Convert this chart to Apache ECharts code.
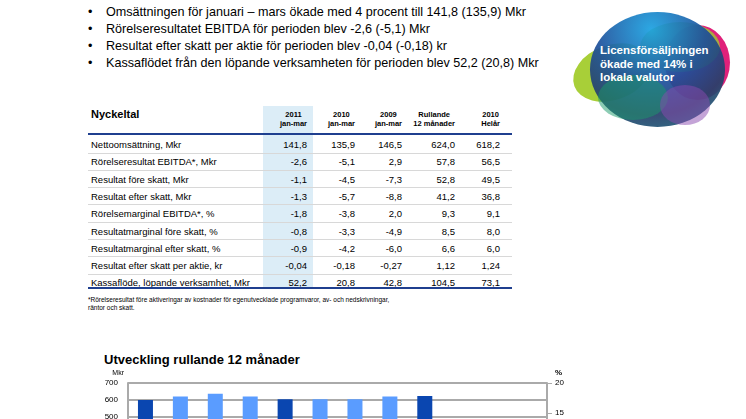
<!DOCTYPE html>
<html><head><meta charset="utf-8">
<script src="https://cdn.jsdelivr.net/npm/echarts@6/dist/echarts.min.js"></script>
<style>
body{margin:0;width:746px;height:419px;overflow:hidden;background:#fff;font-family:"Liberation Sans",Arial,sans-serif;position:relative;color:#000}
.b{position:absolute;left:88px;font-size:12.6px}
.b span{position:absolute;left:0}
.b div{position:absolute;left:18px;white-space:nowrap}
#tbl{position:absolute;left:88px;top:106px;width:424px;font-size:9.5px}
#hl{position:absolute;left:263px;top:106px;width:50px;height:183px;background:#dcedf7}
.row{position:absolute;left:0;width:424px;height:17px;line-height:17px}
.c{position:absolute;text-align:right;white-space:nowrap}
.blob{position:absolute;border-radius:50%}
#chart{position:absolute;left:0;top:350px;width:746px;height:250px}
</style></head><body>
<div id="bul"></div>
<div class="blob" style="left:572px;top:45px;width:80px;height:55px;background:#a8cf38;transform:rotate(-20deg)"></div>
<div class="blob" style="left:665px;top:25px;width:65px;height:75px;background:#e0207a"></div>
<div class="blob" style="left:640px;top:22px;width:80px;height:50px;background:#9acd32;opacity:.8"></div>
<div class="blob" style="left:590px;top:12px;width:135px;height:115px;background:radial-gradient(circle at 45% 15%,#1aa0e0,#1d4f9a 45%,#25406a 70%,#1a7a8a);opacity:.92"></div>
<div class="blob" style="left:598px;top:75px;width:70px;height:45px;background:#1a9a6a;opacity:.5"></div>
<div class="blob" style="left:660px;top:85px;width:50px;height:40px;background:#8a4ab0;opacity:.5"></div>
<div style="position:absolute;left:600px;top:44px;color:#fff;font-weight:bold;font-size:11.5px;line-height:13.5px">Licensförsäljningen<br>ökade med 14% i<br>lokala valutor</div>
<div id="hl"></div>
<div id="tbl"></div>
<div style="position:absolute;left:88px;top:296px;font-size:6.5px;line-height:8px">*Rörelseresultat före aktiveringar av kostnader för egenutvecklade programvaror, av- och nedskrivningar,<br>räntor och skatt.</div>
<div style="position:absolute;left:104px;top:352px;font-size:13px;font-weight:bold">Utveckling rullande 12 månader</div>
<div id="chart"></div>
<script>
const bullets = [
  'Omsättningen för januari – mars ökade med 4 procent till 141,8 (135,9) Mkr',
  'Rörelseresultatet EBITDA för perioden blev -2,6 (-5,1) Mkr',
  'Resultat efter skatt per aktie för perioden blev -0,04 (-0,18) kr',
  'Kassaflödet från den löpande verksamheten för perioden blev 52,2 (20,8) Mkr'
]
const headers = [['2011','jan-mar'],['2010','jan-mar'],['2009','jan-mar'],['Rullande','12 månader'],['2010','Helår']]
const rowLabels = ['Nettoomsättning, Mkr','Rörelseresultat EBITDA*, Mkr','Resultat före skatt, Mkr','Resultat efter skatt, Mkr','Rörelsemarginal EBITDA*, %','Resultatmarginal före skatt, %','Resultatmarginal efter skatt, %','Resultat efter skatt per aktie, kr','Kassaflöde, löpande verksamhet, Mkr']
const rowValues = [
  ['141,8','135,9','146,5','624,0','618,2'],
  ['-2,6','-5,1','2,9','57,8','56,5'],
  ['-1,1','-4,5','-7,3','52,8','49,5'],
  ['-1,3','-5,7','-8,8','41,2','36,8'],
  ['-1,8','-3,8','2,0','9,3','9,1'],
  ['-0,8','-3,3','-4,9','8,5','8,0'],
  ['-0,9','-4,2','-6,0','6,6','6,0'],
  ['-0,04','-0,18','-0,27','1,12','1,24'],
  ['52,2','20,8','42,8','104,5','73,1']
]
const colRight = [219, 267, 314, 367, 412]

const chartCats = ['1','2','3','4','5','6','7','8','9','10','11','12']
const salesValues = [600, 620, 637, 620, 605, 605, 605, 620, 624]
const darkIdx = [0, 4, 8]

let bul = document.getElementById('bul')
bullets.forEach((t, i) => {
  bul.innerHTML += `<div class="b" style="top:${5 + i * 17}px"><span>•</span><div>${t}</div></div>`
})

let tbl = document.getElementById('tbl')
let h = `<div style="position:absolute;left:3px;top:2px;font-size:11px;font-weight:bold">Nyckeltal</div>`
headers.forEach((hd, i) => {
  h += `<div class="c" style="right:${424 - colRight[i]}px;top:4px;font-size:7.5px;font-weight:bold;line-height:9px;text-align:center">${hd[0]}<br>${hd[1]}</div>`
})
h += `<div style="position:absolute;left:0;top:27px;width:424px;height:1.5px;background:#1f3f8f"></div>`
rowLabels.forEach((l, r) => {
  let s = `<div class="row" style="top:${30 + r * 17.3}px"><div style="position:absolute;left:3px">${l}</div>`
  rowValues[r].forEach((v, i) => { s += `<div class="c" style="right:${424 - colRight[i]}px">${v}</div>` })
  s += `</div>`
  if (r < 8) s += `<div style="position:absolute;left:0;top:${46.5 + r * 17.3}px;width:424px;height:1px;background:#d8d8d8"></div>`
  h += s
})
h += `<div style="position:absolute;left:0;top:181px;width:424px;height:1.5px;background:#1f3f8f"></div>`
tbl.innerHTML = h

const chart = echarts.init(document.getElementById('chart'))
chart.setOption({
  animation: false,
  grid: {left: 128, right: 199, top: 33, height: 119},
  xAxis: {type: 'category', data: chartCats, axisLabel: {show: false}, axisTick: {show: false},
    axisLine: {lineStyle: {color: '#aaa'}}},
  yAxis: [
    {type: 'value', min: 0, max: 700, interval: 100, name: 'Mkr', nameGap: 6,
      nameTextStyle: {fontSize: 7, color: '#000', align: 'right', padding: [0, 4, 0, 0]},
      axisLabel: {fontSize: 8, color: '#000', margin: 10}, axisLine: {show: true, lineStyle: {color: '#aaa', width: 2}},
      axisTick: {show: false}, splitLine: {lineStyle: {color: '#aaa', width: 2}}},
    {type: 'value', min: 0, max: 20, interval: 5, name: '%', nameGap: 6,
      nameTextStyle: {fontSize: 8, color: '#000', fontWeight: 'bold', align: 'left', padding: [0, 0, 0, 8]},
      axisLabel: {fontSize: 8, color: '#000'}, axisLine: {show: true, lineStyle: {color: '#aaa', width: 2}},
      axisTick: {show: true, lineStyle: {color: '#aaa'}}, splitLine: {show: false}}
  ],
  series: [{type: 'bar', barWidth: 15,
    data: salesValues.map((v, i) => ({value: v, itemStyle: {color: darkIdx.includes(i) ? '#0a46b0' : '#5a9cff'}}))}]
})
</script>
</body></html>
